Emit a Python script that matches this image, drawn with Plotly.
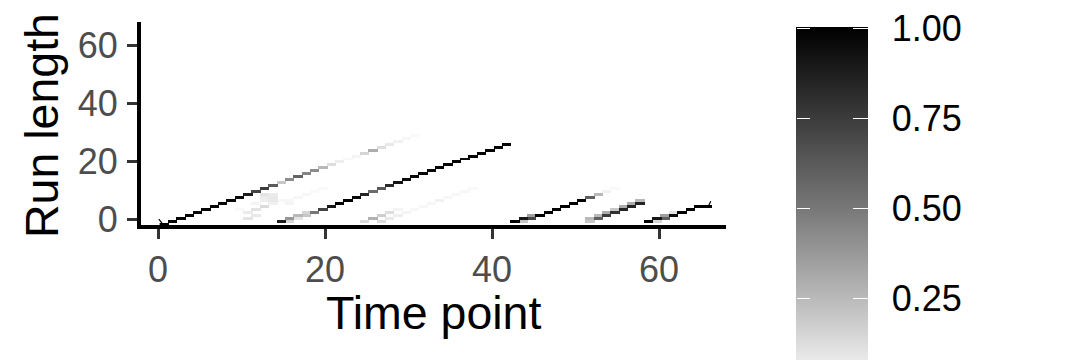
import numpy as np
import plotly.graph_objects as go

# Each path: time index, run-length row, probability
time_a = list(range(0, 31))
run_a = list(range(0, 31))
prob_a = [1, 1, 1, .98, .98, .98, .98, .97, .97, .96, .88, .72, .74, .62, .2, .42, .58, .45, .42, .25,
          .12, .06, .03, .04, .15, .3, .12, .08, .05, .03, .02]

time_b = list(range(15, 42))
run_b = [1, 2, 3, 4, 5, 6, 7, 8, 9, 10, 11, 12, 13, 14, 15, 16, 17, 18, 19, 20, 21, 22, 23, 24, 25, 26, 27]
prob_b = [.15, .1, .2, .5, .72, .9, 1, 1, .97, .85, .55, .62, .82, .92, .96, .97, .98, .97, .98, .98, .98, .95,
          .98, .98, .98, .98, .98]

time_c = [14, 15, 16, 17]
run_c = [1, 2, 3, 4]
prob_c = [.88, .38, .25, .15]

time_cloud = [9, 10, 10, 11, 11, 11, 12, 12, 12, 12, 13, 13, 13, 13, 14, 15, 15, 16, 17, 18, 19]
run_cloud = [5, 2, 4, 3, 5, 7, 6, 8, 9, 10, 7, 8, 9, 10, 8, 7, 8, 9, 10, 11, 12]
prob_cloud = [.02, .1, .07, .08, .1, .04, .13, .06, .07, .1, .05, .08, .08, .07, .03, .04, .03, .03, .03, .02, .02]

time_d = [24, 25, 26, 26, 27, 27, 28, 28, 29, 30, 31, 32, 33, 34, 35, 36, 37]
run_d = [1, 2, 1, 3, 2, 4, 3, 5, 4, 5, 6, 7, 8, 9, 10, 11, 12]
prob_d = [.13, .28, .13, .18, .08, .12, .06, .04, .04, .03, .03, .03, .05, .03, .03, .03, .02]

time_e = [42, 43, 43, 44, 44, 45, 46, 47, 48, 49, 50, 51, 52, 53, 54]
run_e = [1, 1, 2, 2, 3, 3, 4, 5, 6, 7, 8, 9, 10, 11, 12]
prob_e = [1, .2, .9, .7, .35, 1, 1, 1, 1, 1, 1, .6, .25, .05, .02]

time_f = [51, 51, 52, 52, 53, 53, 54, 54, 55, 55, 56, 56, 57, 57]
run_f = [1, 2, 2, 3, 3, 4, 4, 5, 5, 6, 6, 7, 7, 8]
prob_f = [.2, .25, .6, .25, .75, .3, .8, .2, .85, .3, .85, .3, .85, .25]

time_g = [58, 59, 59, 60, 60, 61, 61, 62, 63, 64, 65]
run_g = [1, 1, 2, 2, 3, 3, 4, 4, 5, 6, 6]
prob_g = [1, .15, .9, .6, .35, .95, .1, 1, 1, 1, 1]

start_line_x = [0.1, 0.5]
start_line_y = [0.1, -1.3]
end_line_x = [66.2, 65.9]
end_line_y = [6.3, 4.6]

x_ticks = [0, 20, 40, 60]
y_ticks = [0, 20, 40, 60]
bar_ticks = [0.25, 0.50, 0.75, 1.00]

W, H = 1080, 360
L, R, T, B = 141, 354, 22, 135
PW, PH = W - L - R, H - T - B

# Tiles are a little wider than their cell, as in the reference.
SX, SY = 8, 6
z = np.full((34 * SY + 7, 68 * SX + 9), np.nan)
for ts, rs, ps in [(time_a, run_a, prob_a), (time_b, run_b, prob_b), (time_c, run_c, prob_c),
                   (time_cloud, run_cloud, prob_cloud), (time_d, run_d, prob_d),
                   (time_e, run_e, prob_e), (time_f, run_f, prob_f), (time_g, run_g, prob_g)]:
    for t, r, p in zip(ts, rs, ps):
        block = z[r * SY:r * SY + SY, t * SX:t * SX + SX + 1]
        block[:] = np.fmax(block, p)

BAR_TOP, BAR_LEFT, BAR_W, BAR_LEN = 27, 796, 72, 360.6
ZMAX = 1.003

scale = [[0, "#FFFFFF"], [.25, "#B9B9B9"], [.5, "#777777"], [.75, "#3B3B3B"], [1, "#000000"]]
color_common = dict(zmin=0, zmax=ZMAX, colorscale=scale)
bar_common = dict(lenmode="pixels", len=BAR_LEN, thicknessmode="pixels",
                  y=1 - (BAR_TOP - T) / PH, yanchor="top", ypad=0, xpad=0, xanchor="left",
                  outlinewidth=0, borderwidth=0, tickmode="array", tickvals=bar_ticks)

fig = go.Figure()
fig.add_trace(go.Heatmap(
    z=z.tolist(), x0=0.76 - 0.5625 + 0.0625, dx=1 / SX, y0=-1.975, dy=1.02 / SY,
    hoverongaps=False, **color_common,
    colorbar=dict(
        bar_common, thickness=BAR_W, x=(BAR_LEFT - L) / PW,
        ticktext=["%.2f" % v for v in bar_ticks],
        ticks="outside", ticklen=17, tickcolor="rgba(0,0,0,0)", tickwidth=1,
        tickfont=dict(family="Liberation Sans", size=36, color="#000000"),
    ),
))
# White tick marks on both sides of the bar: thin copies of the bar whose ticks point right.
for left, ticklen in [(BAR_LEFT, 13), (BAR_LEFT + BAR_W - 16, 15)]:
    fig.add_trace(go.Heatmap(
        z=[[0, 1]], opacity=0, hoverinfo="skip", **color_common,
        colorbar=dict(bar_common, thickness=1, x=(left - L) / PW, showticklabels=False,
                      ticks="outside", ticklen=ticklen, tickcolor="#FFFFFF", tickwidth=1),
    ))
for xs, ys in [(start_line_x, start_line_y), (end_line_x, end_line_y)]:
    fig.add_trace(go.Scatter(x=xs, y=ys, mode="lines", line=dict(color="#000000", width=1.2),
                             showlegend=False, hoverinfo="skip"))

axis_common = dict(
    showgrid=False, zeroline=False, showline=True, linecolor="#000000", linewidth=4,
    ticks="outside", ticklen=10, tickwidth=3, tickcolor="#333333",
    tickfont=dict(family="Liberation Sans", size=36, color="#4D4D4D"),
    tickmode="array",
)
title_font = dict(family="Liberation Sans", size=46.5, color="#000000")
fig.update_layout(
    width=W, height=H, paper_bgcolor="#FFFFFF", plot_bgcolor="#FFFFFF",
    margin=dict(l=L, r=R, t=T, b=B, pad=0, autoexpand=False),
    showlegend=False,
    xaxis=dict(axis_common, range=[-2.036, 68.02], tickvals=x_ticks),
    yaxis=dict(axis_common, range=[-1.9, 68.17], tickvals=y_ticks, ticklabelstandoff=2),
    annotations=[
        dict(text="Run length", textangle=-90, xref="paper", yref="paper",
             x=(42 - L) / PW, y=1 - (126 - T) / PH, xanchor="center", yanchor="middle",
             showarrow=False, font=title_font),
        dict(text="Time point", xref="paper", yref="paper",
             x=(433 - L) / PW, y=1 - (313 - T) / PH, xanchor="center", yanchor="middle",
             showarrow=False, font=title_font),
    ],
)
fig.write_html("out.html", config={"displayModeBar": False},
               post_script="document.body.style.margin='0';")
